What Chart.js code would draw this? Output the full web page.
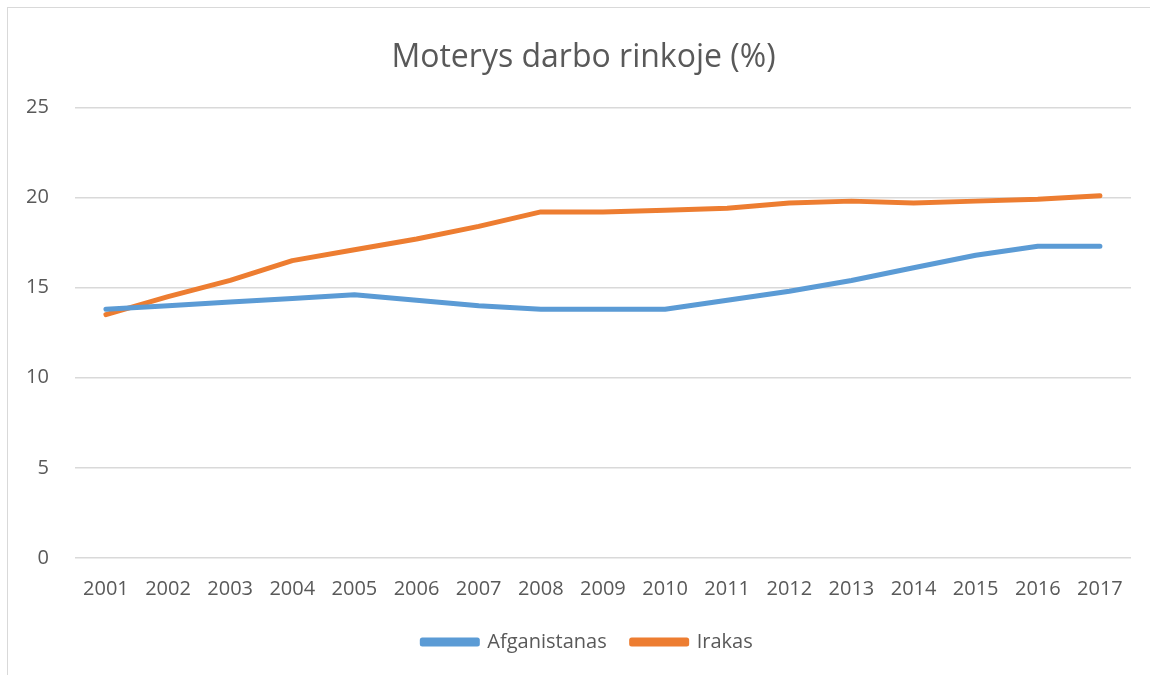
<!DOCTYPE html>
<html>
<head>
<meta charset="utf-8">
<script src="https://cdn.jsdelivr.net/npm/chart.js@4.4.0/dist/chart.umd.min.js"></script>
<style>
  html, body { margin: 0; padding: 0; background: #fff; overflow: hidden; }
  #frame { position: absolute; left: 7px; top: 7px; width: 1160px; height: 700px; border-top: 1px solid #d9d9d9; border-left: 1px solid #d9d9d9; }
  #wrap { position: absolute; left: 0; top: 0; width: 1150px; height: 675px; }
</style>
</head>
<body>
<div id="frame"></div>
<div id="wrap"><canvas id="c" width="1150" height="675"></canvas></div>
<script>
const categories = ['2001','2002','2003','2004','2005','2006','2007','2008','2009','2010','2011','2012','2013','2014','2015','2016','2017'];
const afganistanas = [13.8, 14.0, 14.2, 14.4, 14.6, 14.3, 14.0, 13.8, 13.8, 13.8, 14.3, 14.8, 15.4, 16.1, 16.8, 17.3, 17.3];
const irakas = [13.5, 14.5, 15.4, 16.5, 17.1, 17.7, 18.4, 19.2, 19.2, 19.3, 19.4, 19.7, 19.8, 19.7, 19.8, 19.9, 20.1];
const seriesNames = ['Afganistanas', 'Irakas'];
const yTicks = [0, 5, 10, 15, 20, 25];

const FONT = "'Open Sans', 'Liberation Sans', sans-serif";
const TXT = '#595959';

// The original frame extends past the right edge, so title and legend are centred a bit right of the plot.
const shiftBlocks = {
  id: 'shiftBlocks',
  afterLayout(chart) {
    if (chart.titleBlock) { chart.titleBlock.left += 18; chart.titleBlock.right += 18; }
    if (chart.legend) { chart.legend.left += 22; chart.legend.right += 22; }
  }
};

new Chart(document.getElementById('c'), {
  type: 'line',
  data: {
    labels: categories,
    datasets: [
      { label: seriesNames[0], data: afganistanas, borderColor: '#5b9bd5', backgroundColor: '#5b9bd5',
        borderWidth: 5, pointRadius: 0, tension: 0, borderCapStyle: 'round', borderJoinStyle: 'round' },
      { label: seriesNames[1], data: irakas, borderColor: '#ed7d31', backgroundColor: '#ed7d31',
        borderWidth: 5, pointRadius: 0, tension: 0, borderCapStyle: 'round', borderJoinStyle: 'round' }
    ]
  },
  options: {
    responsive: false,
    animation: false,
    layout: { padding: { left: 0, right: 19, top: 29, bottom: 13 } },
    plugins: {
      title: {
        display: true,
        text: 'Moterys darbo rinkoje (%)',
        color: TXT,
        font: { family: FONT, size: 32, weight: 'normal' },
        padding: { top: 10, bottom: 30 }
      },
      legend: {
        position: 'bottom',
        labels: {
          color: TXT,
          font: { family: FONT, size: 20 },
          boxWidth: 55,
          boxHeight: 4,
          padding: 25
        }
      },
      tooltip: { enabled: false }
    },
    scales: {
      x: {
        offset: true,
        grid: { display: false, drawTicks: false },
        border: { display: false },
        ticks: { color: TXT, font: { family: FONT, size: 20 }, padding: 19, maxRotation: 0, autoSkip: false },
        afterFit: (scale) => { scale.height -= 13; }
      },
      y: {
        min: yTicks[0],
        max: yTicks[yTicks.length - 1],
        afterBuildTicks: (axis) => { axis.ticks = yTicks.map(v => ({ value: v })); },
        grid: { color: '#d9d9d9', lineWidth: 1.5, drawTicks: false },
        border: { display: false },
        ticks: { color: TXT, font: { family: FONT, size: 20 }, padding: 26 }
      }
    }
  },
  plugins: [shiftBlocks]
});
</script>
</body>
</html>
